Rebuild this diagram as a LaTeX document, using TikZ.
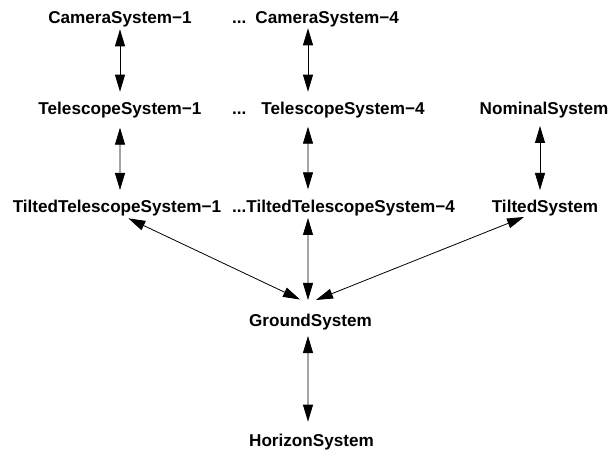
\documentclass[tikz,border=0pt]{standalone}
\usepackage{fontspec}
\setmainfont{Liberation Sans}
\usetikzlibrary{arrows.meta}

\begin{document}
\begin{tikzpicture}[x=1bp, y=-1bp,
  sys/.style = {inner sep=0pt, anchor=base, font=\bfseries\fontsize{17.2}{20}\selectfont},
  link/.style = {<->, >={Triangle[length=17bp,width=10bp]}, line width=0.8bp}]
\useasboundingbox (0,0) rectangle (612,452);

\node[sys] (cam1) at (120,23.5) {CameraSystem−1};
\node[sys] (tel1) at (120,115) {TelescopeSystem−1};
\node[sys] (tilt1) at (117,212.5) {TiltedTelescopeSystem−1};
\node[sys, anchor=base west] (cam4) at (232,23.5) {...\hspace{9bp}CameraSystem−4};
\node[sys, anchor=base west] (tel4) at (232,115) {...\hspace{15bp}TelescopeSystem−4};
\node[sys, anchor=base east] (tilt4) at (455,212.5) {...TiltedTelescopeSystem−4};
\node[sys] (nominal) at (544,115) {NominalSystem};
\node[sys] (tilted) at (545,212.5) {TiltedSystem};
\node[sys] (ground) at (310.5,326) {GroundSystem};
\node[sys] (horizon) at (311.5,446) {HorizonSystem};

\draw[link] ([yshift=-5.8bp]cam1.base) -- ([yshift=23.3bp]tel1.base);
\draw[link] ([yshift=-12.7bp]tel1.base) -- ([xshift=3bp, yshift=22.5bp]tilt1.base);
\draw[link] ([xshift=76bp, yshift=-4.8bp]cam4.base west) -- ([xshift=76bp, yshift=23.3bp]tel4.base west);
\draw[link] ([xshift=76bp, yshift=-11.7bp]tel4.base west) -- ([xshift=-147bp, yshift=23.2bp]tilt4.base east);
\draw[link] ([xshift=-4bp, yshift=-11bp]nominal.base) -- ([xshift=-5bp, yshift=22.5bp]tilted.base);

\draw[link] ([xshift=11.3bp, yshift=-5.8bp]tilt1.base) -- ([xshift=-10.5bp, yshift=26.5bp]ground.base);
\draw[link] ([xshift=-147bp, yshift=-5.5bp]tilt4.base east) -- ([xshift=-2.5bp, yshift=26bp]ground.base);
\draw[link] ([xshift=-21bp, yshift=-4.5bp]tilted.base) -- ([xshift=5.5bp, yshift=26bp]ground.base);
\draw[link] ([xshift=-2.5bp, yshift=-10bp]ground.base) -- ([xshift=-3.5bp, yshift=24.3bp]horizon.base);

\end{tikzpicture}
\end{document}
